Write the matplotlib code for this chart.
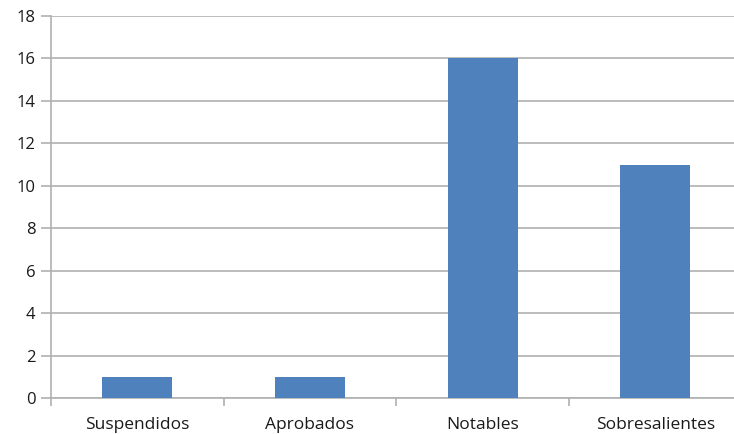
import matplotlib.pyplot as plt

categories = ['Suspendidos', 'Aprobados', 'Notables', 'Sobresalientes']
counts = [1, 1, 16, 11]
y_ticks = [0, 2, 4, 6, 8, 10, 12, 14, 16, 18]

plt.rcParams['font.family'] = ['Open Sans', 'DejaVu Sans']

W, H = 734, 434
fig = plt.figure(figsize=(W / 100, H / 100), dpi=100)
# plot area runs slightly past the right edge, like the exported sheet chart
left, right, top, bottom = 51, 741.5, 16, 398
ax = fig.add_axes([left / W, (H - bottom) / H, (right - left) / W, (bottom - top) / H])

grid_col = '#b0b0b0'
ax.bar(range(len(categories)), counts, width=0.405, color='#4f81bd', zorder=3)

ax.set_xlim(-0.5, len(categories) - 0.5)
ax.set_ylim(0, 18)
ax.set_yticks(y_ticks)
ax.yaxis.grid(True, color=grid_col, linewidth=1.2, zorder=0)

ax.set_xticks(range(len(categories)))
ax.set_xticklabels(categories)
ax.set_xticks([i + 0.5 for i in range(-1, len(categories))], minor=True)
ax.tick_params(axis='x', which='major', length=0, pad=14, labelsize=12.5, colors='#1a1a1a')
ax.tick_params(axis='x', which='minor', length=6, width=1.2, color=grid_col)
ax.tick_params(axis='y', length=7, width=1.2, color=grid_col, pad=4, labelsize=12, labelcolor='#1a1a1a')

for s in ['top', 'right']:
    ax.spines[s].set_visible(False)
ax.spines['left'].set_color(grid_col)
ax.spines['left'].set_linewidth(1.2)
ax.spines['bottom'].set_color(grid_col)
ax.spines['bottom'].set_linewidth(1.2)

fig.savefig('out.png', dpi=100)
